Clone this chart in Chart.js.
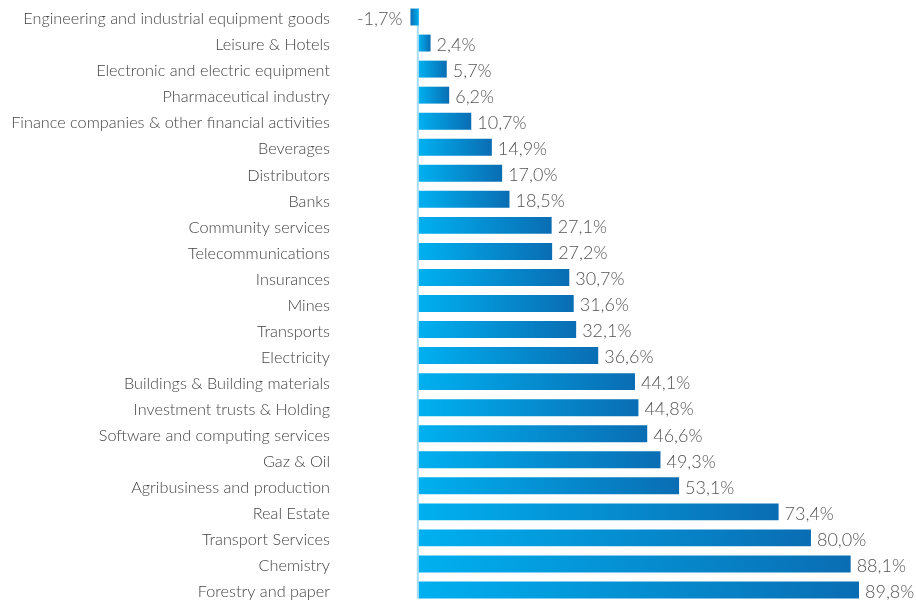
<!DOCTYPE html>
<html>
<head>
<meta charset="utf-8">
<script src="https://cdn.jsdelivr.net/npm/chart.js@4/dist/chart.umd.min.js"></script>
<style>
  html, body { margin: 0; padding: 0; background: #fff; }
  canvas { display: block; }
</style>
</head>
<body>
<canvas id="sectorChart" width="916" height="605"></canvas>
<script>
// sector performance, in %
const sectors = [
  "Engineering and industrial equipment goods",
  "Leisure & Hotels",
  "Electronic and electric equipment",
  "Pharmaceutical industry",
  "Finance companies & other financial activities",
  "Beverages",
  "Distributors",
  "Banks",
  "Community services",
  "Telecommunications",
  "Insurances",
  "Mines",
  "Transports",
  "Electricity",
  "Buildings & Building materials",
  "Investment trusts & Holding",
  "Software and computing services",
  "Gaz & Oil",
  "Agribusiness and production",
  "Real Estate",
  "Transport Services",
  "Chemistry",
  "Forestry and paper"
];
const performance = [
  -1.7, 2.4, 5.7, 6.2, 10.7, 14.9, 17.0, 18.5, 27.1, 27.2, 30.7, 31.6,
  32.1, 36.6, 44.1, 44.8, 46.6, 49.3, 53.1, 73.4, 80.0, 88.1, 89.8
];

const FONT = "Lato, 'Open Sans', sans-serif";

function fmt(v) {
  return v.toFixed(1).replace(".", ",") + "%";
}

// gradient from the zero line (light) toward the bar end (dark)
function barGradient(ctx) {
  const chart = ctx.chart;
  const x = chart.scales.x;
  if (!x || ctx.raw === undefined) return "#0096db";
  const x0 = x.getPixelForValue(0);
  const x1 = x.getPixelForValue(ctx.raw);
  if (!isFinite(x0) || !isFinite(x1) || x0 === x1) return "#0096db";
  const g = chart.ctx.createLinearGradient(x0, 0, x1, 0);
  g.addColorStop(0, "#00b0f0");
  g.addColorStop(1, "#0a6db3");
  return g;
}

// thin vertical line at 0 spanning the bars
const zeroLine = {
  id: "zeroLine",
  beforeDatasetsDraw(chart) {
    const { ctx } = chart;
    const meta = chart.getDatasetMeta(0);
    const first = meta.data[0], last = meta.data[meta.data.length - 1];
    const x0 = chart.scales.x.getPixelForValue(0);
    ctx.save();
    ctx.strokeStyle = "#a6dcf4";
    ctx.lineWidth = 2;
    ctx.beginPath();
    ctx.moveTo(x0 - 1, first.y - first.height / 2);
    ctx.lineTo(x0 - 1, last.y + last.height / 2);
    ctx.stroke();
    ctx.restore();
  }
};

// value labels next to each bar end
const valueLabels = {
  id: "valueLabels",
  afterDatasetsDraw(chart) {
    const { ctx } = chart;
    const meta = chart.getDatasetMeta(0);
    ctx.save();
    ctx.font = "300 18px " + FONT;
    ctx.fillStyle = "#555";
    ctx.textBaseline = "middle";
    meta.data.forEach((bar, i) => {
      const v = performance[i];
      if (v < 0) {
        ctx.textAlign = "right";
        ctx.fillText(fmt(v), bar.x - 8, bar.y + 2);
      } else {
        ctx.textAlign = "left";
        ctx.fillText(fmt(v), bar.x + 6, bar.y + 2);
      }
    });
    ctx.restore();
  }
};

new Chart(document.getElementById("sectorChart"), {
  type: "bar",
  data: {
    labels: sectors,
    datasets: [{
      data: performance,
      backgroundColor: barGradient,
      borderWidth: 0,
      barPercentage: 0.65,
      categoryPercentage: 1
    }]
  },
  options: {
    indexAxis: "y",
    responsive: false,
    animation: false,
    layout: { padding: { left: 0, right: 7, top: 4, bottom: 2 } },
    plugins: {
      legend: { display: false },
      tooltip: { enabled: false }
    },
    scales: {
      x: {
        min: -2,
        max: 100,
        display: false
      },
      y: {
        border: { display: false },
        grid: { display: false, drawTicks: false },
        ticks: {
          padding: 79,
          labelOffset: 2,
          color: "#444",
          autoSkip: false,
          font: { family: FONT, size: 16.25, weight: 300 }
        },
        afterFit(scale) {
          // keep the label gap from eating vertical space
          scale.width = 409;
          scale.paddingTop = 0;
          scale.paddingBottom = 0;
        }
      }
    }
  },
  plugins: [zeroLine, valueLabels]
});
</script>
</body>
</html>
